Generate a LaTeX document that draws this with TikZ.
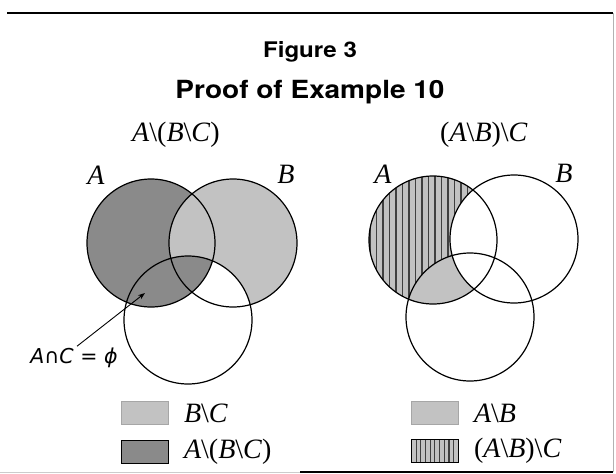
\documentclass[tikz,border=0pt]{standalone}
\usepackage{fontspec}
\setmainfont{Liberation Serif}
\newfontfamily\headfont[FakeStretch=1.12]{TeX Gyre Heros}
\newfontfamily\symfont[ItalicFont={DejaVu Sans Oblique}]{DejaVu Sans}
\usepackage{tikz}
\usetikzlibrary{positioning,arrows.meta}
\definecolor{shadelight}{HTML}{C2C2C2}
\definecolor{shadedark}{HTML}{8A8A8A}
\newcommand{\sd}{\textbackslash}

\begin{document}
\begin{tikzpicture}[x=1pt, y=-1pt,
  setname/.style={inner sep=0pt, font=\fontsize{28}{30}\selectfont},
  venn/.style={line width=1.2pt},
  legbox/.style={draw, line width=0.8pt, minimum width=47pt, minimum height=23pt,
                 inner sep=0pt, anchor=north west},
  stripes/.style={path picture={\foreach \i in {1,...,9}
      \draw[black!75, line width=1.1pt]
        ([xshift=\i*4.7pt]path picture bounding box.north west) --
        ([xshift=\i*4.7pt]path picture bounding box.south west);}},
  arrow/.style={-{Stealth[length=7pt,width=5pt]}, line width=0.9pt}
]
\useasboundingbox (0,0) rectangle (616,474);
% frame
\draw[line width=1.6pt] (7,13) -- (613,13);
\draw[gray!60, line width=0.8pt] (613,13) -- (613,472);
\draw[gray!40, line width=1pt] (0,472) -- (300,472);
\draw[line width=1.6pt] (300,472) -- (613,472);

% headings
\node[anchor=base, font=\headfont\bfseries\fontsize{21.5}{24}\selectfont] (fig) at (310,57) {Figure 3};
\node[anchor=base, font=\headfont\bfseries\fontsize{25}{28}\selectfont] (proof) at (310,98) {Proof of Example 10};
\node[setname, anchor=base west] (lefttitle) at (132,141) {\textit{A}\sd(\textit{B}\sd\textit{C})};
\node[setname, anchor=base west] (righttitle) at (440,141) {(\textit{A}\sd\textit{B})\sd\textit{C}};

% circle centres
\coordinate (lA) at (151,243);
\coordinate (lB) at (233,243);
\coordinate (lC) at (188,320);
\coordinate (rA) at (433,240);
\coordinate (rB) at (514,239);
\coordinate (rC) at (470,317);

% left: A\(B\C)
\fill[shadedark] (lA) circle[radius=64pt];
\begin{scope}
  \clip (lB) circle[radius=64pt];
  \fill[shadelight, even odd rule] (lC) circle[radius=64pt] (100,150) rectangle (320,330);
\end{scope}

% right: (A\B)\C
\begin{scope}
  \clip (rA) circle[radius=64pt];
  \fill[shadelight] (rA) circle[radius=64pt];
  \foreach \x in {370,376.5,...,500}
    \draw[black!75, line width=1.1pt] (\x,170) -- (\x,310);
  \fill[shadelight] (rC) circle[radius=64pt];
  \fill[white] (rB) circle[radius=64pt];
\end{scope}

\foreach \c in {lA,lB,lC,rA,rB,rC}
  \draw[venn] (\c) circle[radius=64pt];

\node[setname, anchor=base] (la) at (96,184) {\textit{A}};
\node[setname, anchor=base] (lb) at (286,183) {\textit{B}};
\node[setname, anchor=base] (ra) at (383,183) {\textit{A}};
\node[setname, anchor=base] (rb) at (564,182) {\textit{B}};

% A cap C is empty
\node[anchor=base, inner sep=1pt, font=\symfont\fontsize{20.5}{23}\selectfont] (empty) at (74,363)
  {\textit{A}∩\textit{C} = \textit{ϕ}};
\coordinate (acpt) at (145,293);
\draw[arrow] ([xshift=3pt]empty.north) -- (acpt);

% legend
\node[legbox, draw=gray!70, fill=shadelight] (lkey1) at (121,401) {};
\node[legbox, fill=shadedark] (lkey2) at (121,440) {};
\node[setname, right=15pt of lkey1] (ltxt1) {\textit{B}\sd\textit{C}};
\node[setname, right=15pt of lkey2] (ltxt2) {\textit{A}\sd(\textit{B}\sd\textit{C})};
\node[legbox, draw=gray!70, fill=shadelight] (rkey1) at (411,401) {};
\node[legbox, fill=shadelight, stripes] (rkey2) at (411,439) {};
\node[setname, right=15pt of rkey1] (rtxt1) {\textit{A}\sd\textit{B}};
\node[setname, right=15pt of rkey2] (rtxt2) {(\textit{A}\sd\textit{B})\sd\textit{C}};
\end{tikzpicture}
\end{document}
